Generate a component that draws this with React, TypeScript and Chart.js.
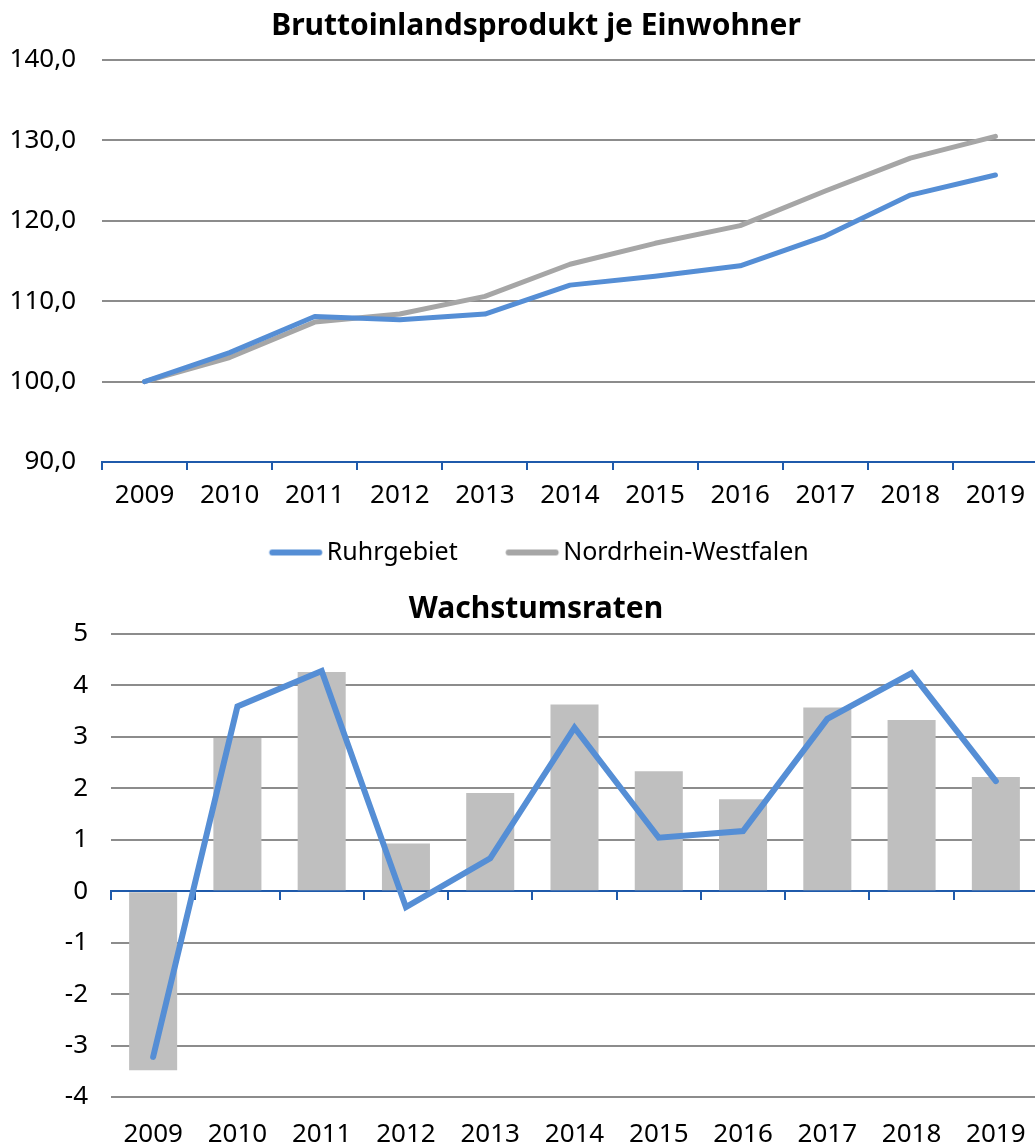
import React, { useEffect, useRef } from 'react';
import { Chart, registerables } from 'chart.js';

Chart.register(...registerables);

const years = ['2009', '2010', '2011', '2012', '2013', '2014', '2015', '2016', '2017', '2018', '2019'];
const ruhrIndex = [100.0, 103.6, 108.1, 107.7, 108.4, 112.0, 113.1, 114.4, 118.1, 123.2, 125.7];
const nrwIndex = [100.0, 103.0, 107.4, 108.4, 110.6, 114.6, 117.2, 119.4, 123.7, 127.8, 130.5];
const ruhrGrowth = [-3.22, 3.59, 4.28, -0.31, 0.64, 3.18, 1.04, 1.17, 3.35, 4.24, 2.14];
const nrwGrowth = [-3.48, 2.98, 4.26, 0.93, 1.91, 3.63, 2.33, 1.79, 3.57, 3.33, 2.22];
const indexTickRange = { min: 90, max: 140, step: 10 };
const growthTickRange = { min: -4, max: 5, step: 1 };

const FONT = '"Noto Sans", "Open Sans", sans-serif';
const BLUE = '#558ED5';
const GRAY_LINE = '#A6A6A6';
const BAR_GRAY = '#BFBFBF';
const GRID = '#8C8C8C';
const AXIS_BLUE = '#1F5AAB';
const CANVAS_W = 1072;

// legend swatch: a short thick line with round caps, offset to the right inside the image
function legendLine(color: string): HTMLCanvasElement {
  const c = document.createElement('canvas');
  c.width = 96;
  c.height = 10;
  const g = c.getContext('2d');
  if (g) {
    g.strokeStyle = color;
    g.lineWidth = 6;
    g.lineCap = 'round';
    g.beginPath();
    g.moveTo(43.5, 5);
    g.lineTo(90.5, 5);
    g.stroke();
  }
  return c;
}

// invisible right-hand axis that reserves space so the plot ends where the original did
const rightSpacer = {
  type: 'linear',
  position: 'right',
  display: true,
  grid: { display: false },
  border: { display: false },
  ticks: { display: false },
  afterFit: (s: any) => {
    s.width = 34;
  },
};

const legendShift = {
  id: 'legendShift',
  afterLayout(chart: any) {
    const l = chart.legend;
    if (l) {
      l.left -= 12;
      l.right -= 12;
    }
  },
};

function TopChart() {
  const ref = useRef<HTMLCanvasElement | null>(null);
  useEffect(() => {
    if (!ref.current) return;
    const chart = new Chart(ref.current, {
      type: 'line',
      data: {
        labels: years,
        datasets: [
          {
            label: 'Ruhrgebiet',
            data: ruhrIndex,
            borderColor: BLUE,
            backgroundColor: BLUE,
            borderWidth: 5,
            pointRadius: 0,
            pointStyle: legendLine(BLUE),
            tension: 0,
            borderCapStyle: 'round',
            borderJoinStyle: 'round',
          },
          {
            label: 'Nordrhein-Westfalen',
            data: nrwIndex,
            borderColor: GRAY_LINE,
            backgroundColor: GRAY_LINE,
            borderWidth: 5,
            pointRadius: 0,
            pointStyle: legendLine(GRAY_LINE),
            tension: 0,
            borderCapStyle: 'round',
            borderJoinStyle: 'round',
          },
        ],
      },
      plugins: [legendShift],
      options: {
        animation: false,
        responsive: false,
        layout: { padding: { left: 0, right: 0, top: 0, bottom: 5 } },
        plugins: {
          title: {
            display: true,
            text: 'Bruttoinlandsprodukt je Einwohner',
            color: '#000',
            font: { family: FONT, size: 30, weight: 'bold' },
            padding: { top: 8, bottom: 16 },
          },
          legend: {
            position: 'bottom',
            labels: {
              usePointStyle: true,
              pointStyleWidth: 75,
              color: '#000',
              font: { family: FONT, size: 25 },
              padding: 18,
            },
          },
          tooltip: { enabled: false },
        },
        scales: {
          x: {
            offset: true,
            grid: {
              offset: true,
              drawOnChartArea: false,
              drawTicks: true,
              tickLength: 8,
              color: AXIS_BLUE,
              lineWidth: 2,
            },
            border: { color: AXIS_BLUE, width: 2 },
            ticks: {
              color: '#000',
              font: { family: FONT, size: 26 },
              padding: 10,
              maxRotation: 0,
              autoSkip: false,
            },
            afterFit: (s: any) => {
              s.height = 60;
            },
          },
          y: {
            min: indexTickRange.min,
            max: indexTickRange.max,
            ticks: {
              stepSize: indexTickRange.step,
              color: '#000',
              font: { family: FONT, size: 26 },
              padding: 26,
              callback: (v: any) => Number(v).toFixed(1).replace('.', ','),
            },
            grid: {
              drawTicks: false,
              lineWidth: 2,
              color: (c: any) => (c.tick && c.tick.value === indexTickRange.min ? 'rgba(0,0,0,0)' : GRID),
            },
            border: { display: false },
            afterFit: (s: any) => {
              s.width = 102;
            },
          },
          yRight: rightSpacer,
        },
      },
    } as any);
    return () => chart.destroy();
  }, []);
  return <canvas ref={ref} width={CANVAS_W} height={580} style={{ display: 'block' }} />;
}

function BottomChart() {
  const ref = useRef<HTMLCanvasElement | null>(null);
  useEffect(() => {
    if (!ref.current) return;
    const chart = new Chart(ref.current, {
      type: 'bar',
      data: {
        labels: years,
        datasets: [
          {
            type: 'line',
            label: 'Ruhrgebiet',
            data: ruhrGrowth,
            borderColor: BLUE,
            backgroundColor: BLUE,
            borderWidth: 6,
            pointRadius: 0,
            tension: 0,
            borderCapStyle: 'round',
            borderJoinStyle: 'miter',
            order: 0,
          },
          {
            type: 'bar',
            label: 'Nordrhein-Westfalen',
            data: nrwGrowth,
            backgroundColor: BAR_GRAY,
            barPercentage: 0.57,
            categoryPercentage: 1,
            order: 1,
          },
        ],
      },
      options: {
        animation: false,
        responsive: false,
        layout: { padding: { left: 0, right: 0, top: 0, bottom: 0 } },
        plugins: {
          title: {
            display: true,
            text: 'Wachstumsraten',
            color: '#000',
            font: { family: FONT, size: 30, weight: 'bold' },
            padding: { top: 11, bottom: 7 },
          },
          legend: { display: false },
          tooltip: { enabled: false },
        },
        scales: {
          x: {
            position: 'bottom',
            offset: true,
            grid: { display: false },
            border: { display: false },
            ticks: {
              color: '#000',
              font: { family: FONT, size: 26 },
              padding: 14,
              maxRotation: 0,
              autoSkip: false,
            },
            afterFit: (s: any) => {
              s.height = 45;
            },
          },
          x2: {
            type: 'category',
            position: { y: 0 },
            offset: true,
            grid: {
              offset: true,
              drawOnChartArea: false,
              drawTicks: true,
              tickLength: 8,
              color: AXIS_BLUE,
              lineWidth: 2,
            },
            border: { color: AXIS_BLUE, width: 2 },
            ticks: { display: false },
          },
          y: {
            min: growthTickRange.min,
            max: growthTickRange.max,
            ticks: {
              stepSize: growthTickRange.step,
              color: '#000',
              font: { family: FONT, size: 26 },
              padding: 23,
            },
            grid: {
              drawTicks: false,
              lineWidth: 2,
              color: (c: any) => (c.tick && c.tick.value === 0 ? 'rgba(0,0,0,0)' : GRID),
            },
            border: { display: false },
            afterFit: (s: any) => {
              s.width = 111;
            },
          },
          yRight: rightSpacer,
        },
      },
    } as any);
    return () => chart.destroy();
  }, []);
  return <canvas ref={ref} width={CANVAS_W} height={562} style={{ display: 'block' }} />;
}

export default function App() {
  return (
    <div
      style={{
        position: 'absolute',
        left: 0,
        top: 0,
        width: 1035,
        height: 1142,
        overflow: 'hidden',
        background: '#fff',
      }}
    >
      <div style={{ position: 'absolute', left: 0, top: 0 }}>
        <TopChart />
      </div>
      <div style={{ position: 'absolute', left: 0, top: 580 }}>
        <BottomChart />
      </div>
    </div>
  );
}
